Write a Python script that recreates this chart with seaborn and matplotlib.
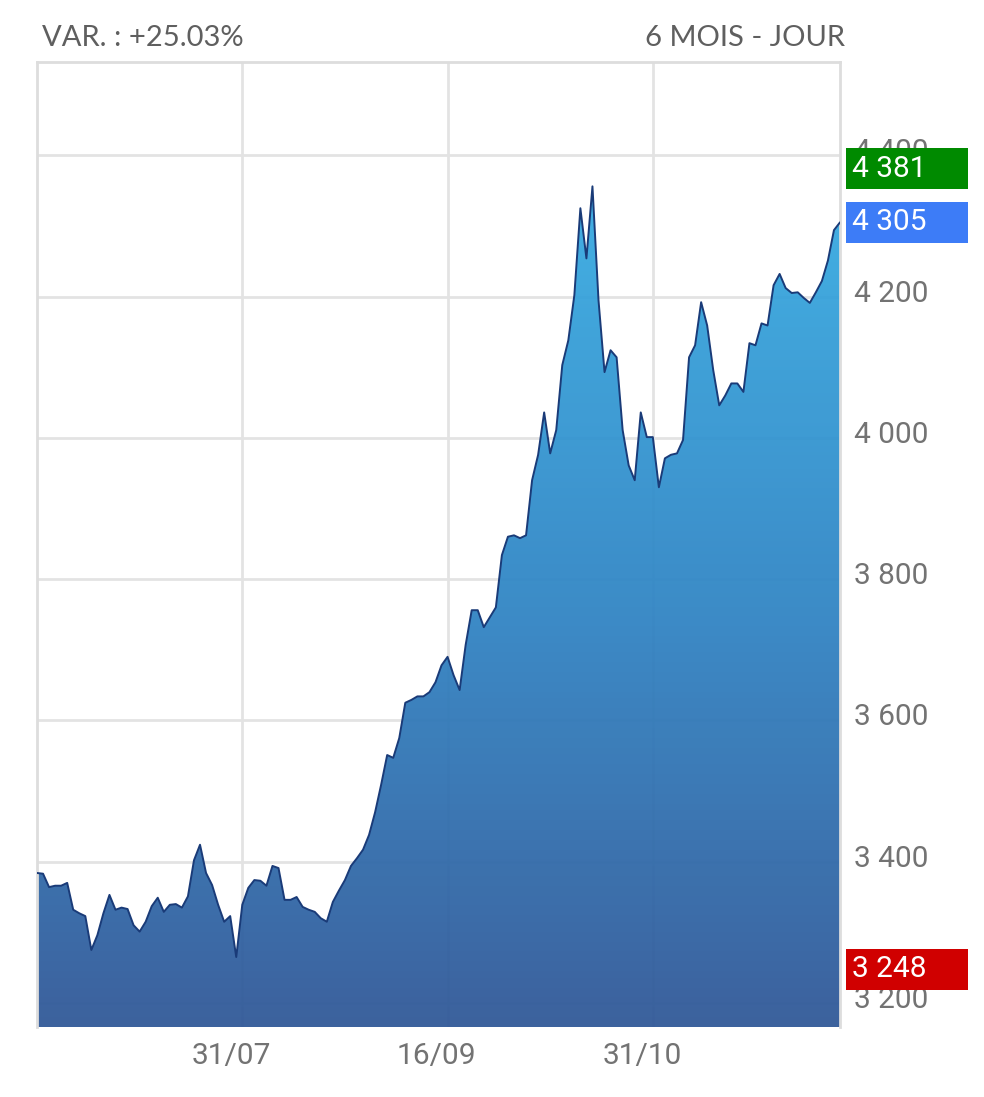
import matplotlib
matplotlib.use('Agg')
import numpy as np
import matplotlib.pyplot as plt
import seaborn as sns
from matplotlib.colors import LinearSegmentedColormap
from matplotlib.patches import Rectangle
from matplotlib.transforms import blended_transform_factory, ScaledTranslation

sns.set_style('white')
plt.rcParams['font.family'] = ['Roboto', 'DejaVu Sans']

# ── Data: daily close, 6 months ─────────────────────────────────────────────
close = [
    3384, 3383, 3364, 3366, 3366, 3370, 3332, 3327, 3323, 3275,
    3296, 3327, 3353, 3332, 3335, 3333, 3310, 3301, 3315, 3337,
    3349, 3329, 3339, 3340, 3335, 3351, 3402, 3424, 3384, 3367,
    3339, 3315, 3323, 3265, 3339, 3363, 3374, 3373, 3366, 3394,
    3391, 3346, 3346, 3350, 3336, 3332, 3329, 3320, 3315, 3343,
    3359, 3374, 3394, 3405, 3417, 3438, 3470, 3509, 3551, 3547,
    3575, 3625, 3629, 3634, 3634, 3640, 3654, 3678, 3690, 3664,
    3643, 3707, 3756, 3756, 3732, 3746, 3760, 3834, 3860, 3862,
    3858, 3862, 3940, 3976, 4036, 3978, 4011, 4103, 4138, 4202,
    4325, 4254, 4356, 4195, 4093, 4124, 4114, 4011, 3961, 3940,
    4036, 4001, 4001, 3930, 3971, 3976, 3978, 3997, 4114, 4131,
    4192, 4159, 4096, 4046, 4060, 4077, 4077, 4065, 4134, 4131,
    4162, 4159, 4216, 4232, 4212, 4205, 4206, 4198, 4191, 4206,
    4222, 4251, 4294, 4305,
]
days = list(range(len(close)))

tick_days = [34, 68, 102]
tick_labels = ['31/07', '16/09', '31/10']
y_ticks = [3200, 3400, 3600, 3800, 4000, 4200, 4400]

badge_values = [4381, 4305, 3248]   # plus haut, dernier, plus bas
badge_colors = ['#008a00', '#3d7cf7', '#d00000']

var_text = 'VAR. : +25.03%'
period_text = '6 MOIS - JOUR'

ymin, ymax = 3166, 4532

# ── Figure ──────────────────────────────────────────────────────────────────
fig = plt.figure(figsize=(9.84, 10.97), dpi=100)
ax = fig.add_axes([37/984, 1 - 1027/1097, (840 - 37)/984, (1027 - 62)/1097])

# gradient area under the curve
poly = ax.fill_between(days, close, ymin, color='none', linewidth=0)
cmap = LinearSegmentedColormap.from_list('cac', ['#2f5797', '#2f84c4', '#36abe2'])
grad = np.linspace(0, 1, 256).reshape(-1, 1)
im = ax.imshow(grad, extent=[0, days[-1], ymin, max(close)], origin='lower',
               aspect='auto', cmap=cmap, alpha=0.94, zorder=2)
im.set_clip_path(poly.get_paths()[0], transform=ax.transData)

sns.lineplot(x=days, y=close, ax=ax, color='#1a3b78', linewidth=1.4, zorder=3)

ax.set_xlim(0, days[-1])
ax.set_ylim(ymin, ymax)

# grid + axes
ax.set_xticks(tick_days)
ax.set_xticklabels(tick_labels)
ax.set_yticks(y_ticks)
ax.set_yticklabels([f'{v:,}'.replace(',', ' ') for v in y_ticks])
ax.yaxis.tick_right()
ax.grid(True, color='#e3e3e3', linewidth=2)
ax.set_axisbelow(True)
ax.tick_params(axis='both', length=0, labelsize=21.5, labelcolor='#737373')
ax.tick_params(axis='y', pad=10)
ax.tick_params(axis='x', pad=11)
for lbl in ax.get_xticklabels():
    lbl.set_transform(lbl.get_transform() + ScaledTranslation(-11/100, 0, fig.dpi_scale_trans))
for lbl in ax.get_yticklabels():
    lbl.set_transform(lbl.get_transform() + ScaledTranslation(0, 6/100, fig.dpi_scale_trans))
for side in ['left', 'top', 'right']:
    ax.spines[side].set_color('#dddddd')
    ax.spines[side].set_linewidth(2)
ax.spines['bottom'].set_visible(False)
ax.set_xlabel('')
ax.set_ylabel('')

# value badges on the right
tr = blended_transform_factory(fig.transFigure, ax.transData)
half_h = 29
for v, c in zip(badge_values, badge_colors):
    ax.add_patch(Rectangle((846/984, v - half_h), 122/984, 2 * half_h, transform=tr,
                           facecolor=c, edgecolor='none', clip_on=False, zorder=5))
    ax.text(852/984, v, f'{v:,}'.replace(',', ' '), transform=tr, color='white',
            fontsize=21.5, va='center', ha='left', zorder=6, clip_on=False)

# header
fig.text(42/984, 1 - 38/1097, var_text, ha='left', va='center', fontsize=21,
         color='#5f5f5f', family=['Lato', 'DejaVu Sans'])
fig.text(845/984, 1 - 38/1097, period_text, ha='right', va='center', fontsize=21,
         color='#5f5f5f', family=['Lato', 'DejaVu Sans'])

fig.savefig('out.png', dpi=100)
